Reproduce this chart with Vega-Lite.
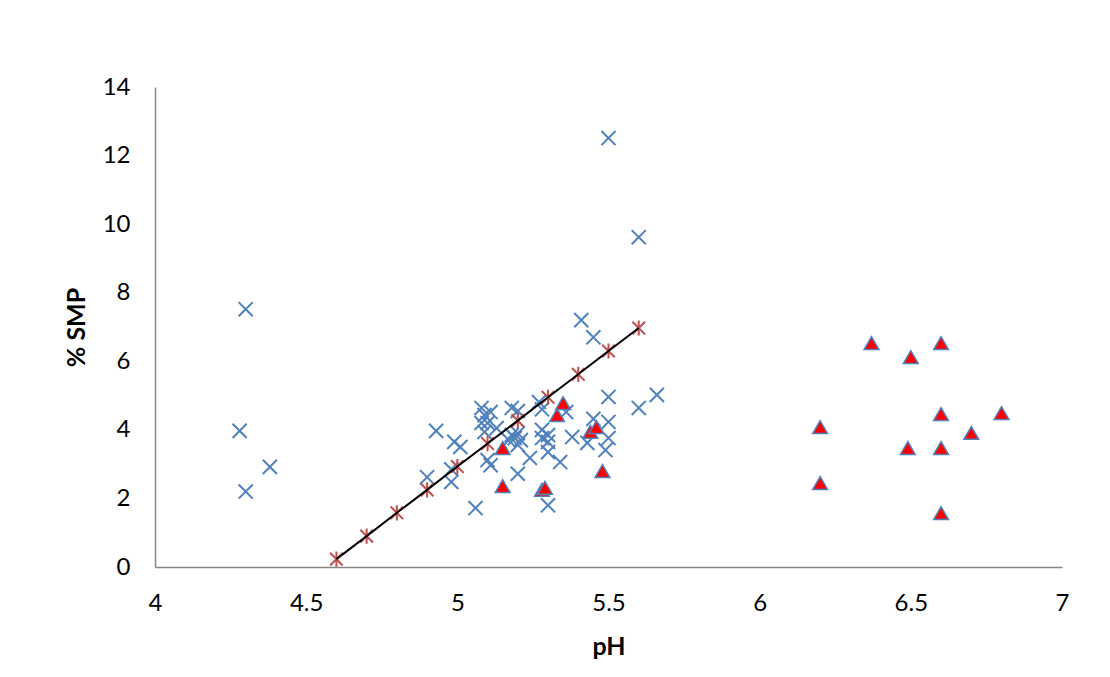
{
  "$schema": "https://vega.github.io/schema/vega-lite/v6.json",
  "width": 907,
  "height": 480,
  "autosize": {"type": "none"},
  "padding": {"left": 155, "top": 87, "right": 48, "bottom": 110},
  "background": "white",
  "config": {
    "view": {"stroke": null},
    "axis": {
      "grid": false,
      "ticks": false,
      "domainColor": "#868686",
      "domainWidth": 1.5,
      "labelFont": "Lato",
      "labelFontSize": 24,
      "labelColor": "#000000",
      "titleFont": "Lato",
      "titleFontSize": 25,
      "titleFontWeight": "bold",
      "titleColor": "#000000"
    }
  },
  "datasets": {
    "pts": [
      {"series": "obs", "pH": 4.30, "smp": 7.52},
      {"series": "obs", "pH": 4.28, "smp": 3.97},
      {"series": "obs", "pH": 4.30, "smp": 2.20},
      {"series": "obs", "pH": 4.38, "smp": 2.92},
      {"series": "obs", "pH": 5.50, "smp": 12.51},
      {"series": "obs", "pH": 5.60, "smp": 9.62},
      {"series": "obs", "pH": 5.41, "smp": 7.20},
      {"series": "obs", "pH": 5.45, "smp": 6.70},
      {"series": "obs", "pH": 5.66, "smp": 5.02},
      {"series": "obs", "pH": 5.60, "smp": 4.64},
      {"series": "obs", "pH": 5.50, "smp": 4.96},
      {"series": "obs", "pH": 5.06, "smp": 1.72},
      {"series": "obs", "pH": 5.30, "smp": 1.80},
      {"series": "obs", "pH": 4.93, "smp": 3.97},
      {"series": "obs", "pH": 4.99, "smp": 3.65},
      {"series": "obs", "pH": 5.01, "smp": 3.50},
      {"series": "obs", "pH": 4.90, "smp": 2.62},
      {"series": "obs", "pH": 4.98, "smp": 2.85},
      {"series": "obs", "pH": 4.98, "smp": 2.48},
      {"series": "obs", "pH": 5.08, "smp": 4.64},
      {"series": "obs", "pH": 5.09, "smp": 4.43},
      {"series": "obs", "pH": 5.11, "smp": 4.52},
      {"series": "obs", "pH": 5.08, "smp": 4.20},
      {"series": "obs", "pH": 5.10, "smp": 4.20},
      {"series": "obs", "pH": 5.09, "smp": 3.94},
      {"series": "obs", "pH": 5.13, "smp": 4.05},
      {"series": "obs", "pH": 5.18, "smp": 4.64},
      {"series": "obs", "pH": 5.20, "smp": 4.55},
      {"series": "obs", "pH": 5.10, "smp": 3.12},
      {"series": "obs", "pH": 5.11, "smp": 2.97},
      {"series": "obs", "pH": 5.18, "smp": 3.85},
      {"series": "obs", "pH": 5.19, "smp": 3.76},
      {"series": "obs", "pH": 5.20, "smp": 3.90},
      {"series": "obs", "pH": 5.17, "smp": 3.70},
      {"series": "obs", "pH": 5.21, "smp": 3.70},
      {"series": "obs", "pH": 5.20, "smp": 3.56},
      {"series": "obs", "pH": 5.24, "smp": 3.18},
      {"series": "obs", "pH": 5.27, "smp": 4.81},
      {"series": "obs", "pH": 5.28, "smp": 4.60},
      {"series": "obs", "pH": 5.36, "smp": 4.52},
      {"series": "obs", "pH": 5.28, "smp": 4.00},
      {"series": "obs", "pH": 5.30, "smp": 3.85},
      {"series": "obs", "pH": 5.28, "smp": 3.76},
      {"series": "obs", "pH": 5.30, "smp": 3.65},
      {"series": "obs", "pH": 5.30, "smp": 3.35},
      {"series": "obs", "pH": 5.34, "smp": 3.06},
      {"series": "obs", "pH": 5.38, "smp": 3.79},
      {"series": "obs", "pH": 5.43, "smp": 3.62},
      {"series": "obs", "pH": 5.45, "smp": 4.32},
      {"series": "obs", "pH": 5.50, "smp": 4.23},
      {"series": "obs", "pH": 5.50, "smp": 3.76},
      {"series": "obs", "pH": 5.49, "smp": 3.41},
      {"series": "obs", "pH": 5.20, "smp": 2.72},
      {"series": "other", "pH": 5.15, "smp": 3.47},
      {"series": "other", "pH": 5.15, "smp": 2.36},
      {"series": "other", "pH": 5.28, "smp": 2.25},
      {"series": "other", "pH": 5.29, "smp": 2.31},
      {"series": "other", "pH": 5.35, "smp": 4.78},
      {"series": "other", "pH": 5.33, "smp": 4.43},
      {"series": "other", "pH": 5.44, "smp": 3.94},
      {"series": "other", "pH": 5.46, "smp": 4.08},
      {"series": "other", "pH": 5.48, "smp": 2.80},
      {"series": "other", "pH": 6.37, "smp": 6.53},
      {"series": "other", "pH": 6.50, "smp": 6.12},
      {"series": "other", "pH": 6.60, "smp": 6.53},
      {"series": "other", "pH": 6.60, "smp": 4.46},
      {"series": "other", "pH": 6.80, "smp": 4.49},
      {"series": "other", "pH": 6.70, "smp": 3.91},
      {"series": "other", "pH": 6.20, "smp": 4.08},
      {"series": "other", "pH": 6.49, "smp": 3.47},
      {"series": "other", "pH": 6.60, "smp": 3.47},
      {"series": "other", "pH": 6.20, "smp": 2.45},
      {"series": "other", "pH": 6.60, "smp": 1.57},
      {"series": "fit", "pH": 4.6, "smp": 0.23},
      {"series": "fit", "pH": 4.7, "smp": 0.90},
      {"series": "fit", "pH": 4.8, "smp": 1.58},
      {"series": "fit", "pH": 4.9, "smp": 2.25},
      {"series": "fit", "pH": 5.0, "smp": 2.93},
      {"series": "fit", "pH": 5.1, "smp": 3.60},
      {"series": "fit", "pH": 5.2, "smp": 4.27},
      {"series": "fit", "pH": 5.3, "smp": 4.95},
      {"series": "fit", "pH": 5.4, "smp": 5.62},
      {"series": "fit", "pH": 5.5, "smp": 6.30},
      {"series": "fit", "pH": 5.6, "smp": 6.97}
    ]
  },
  "data": {"name": "pts"},
  "encoding": {
    "x": {
      "field": "pH", "type": "quantitative",
      "scale": {"domain": [4, 7], "nice": false, "zero": false},
      "axis": {"values": [4, 4.5, 5, 5.5, 6, 6.5, 7], "format": "~g", "title": "pH", "labelPadding": 24, "titlePadding": 19, "labelFlush": false}
    },
    "y": {
      "field": "smp", "type": "quantitative",
      "scale": {"domain": [0, 14], "nice": false, "zero": true},
      "axis": {"values": [0, 2, 4, 6, 8, 10, 12, 14], "title": "% SMP", "labelPadding": 25, "titlePadding": 13, "labelFlush": false}
    }
  },
  "layer": [
    {
      "transform": [{"filter": "datum.series === 'obs'"}],
      "mark": {"type": "point", "shape": "M-1,-1L1,1M-1,1L1,-1", "filled": false, "stroke": "#4F81BD", "strokeWidth": 2, "size": 200, "opacity": 1}
    },
    {
      "transform": [{"filter": "datum.series === 'other'"}],
      "mark": {"type": "point", "shape": "triangle-up", "filled": true, "fill": "#FF0000", "stroke": "#4F81BD", "strokeWidth": 1.5, "size": 220, "opacity": 1}
    },
    {
      "transform": [{"filter": "datum.series === 'fit'"}],
      "mark": {"type": "point", "shape": "M-1,-1L1,1M-1,1L1,-1M0,-1.2L0,1.2", "filled": false, "stroke": "#C0504D", "strokeWidth": 2, "size": 160, "opacity": 1}
    },
    {
      "transform": [{"filter": "datum.series === 'fit'"}],
      "mark": {"type": "line", "color": "#000000", "strokeWidth": 2}
    }
  ]
}
